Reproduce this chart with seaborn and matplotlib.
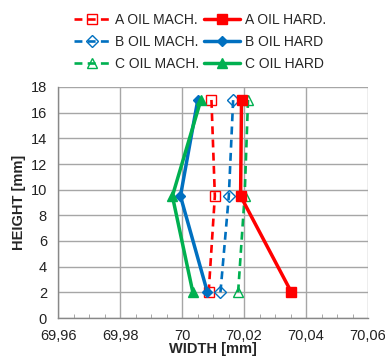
import matplotlib
matplotlib.use("Agg")
import matplotlib.pyplot as plt
import seaborn as sns
import pandas as pd
from matplotlib.ticker import MultipleLocator, FuncFormatter

sns.set_style("white")
plt.rcParams['font.family'] = ['Liberation Sans', 'DejaVu Sans']

height = [2, 9.5, 17]
a_mach = [70.0086, 70.0106, 70.0095]
a_hard = [70.0353, 70.0189, 70.0192]
b_mach = [70.0124, 70.0151, 70.0165]
b_hard = [70.0082, 69.9995, 70.0051]
c_mach = [70.0181, 70.0202, 70.0213]
c_hard = [70.0035, 69.9969, 70.0061]

series = [
    ("A OIL MACH.", a_mach, "#FF0000", "--", "s", "none"),
    ("B OIL MACH.", b_mach, "#0070C0", "--", "D", "none"),
    ("C OIL MACH.", c_mach, "#00B050", "--", "^", "none"),
    ("A OIL HARD.", a_hard, "#FF0000", "-", "s", None),
    ("B OIL HARD", b_hard, "#0070C0", "-", "D", None),
    ("C OIL HARD", c_hard, "#00B050", "-", "^", None),
]

fig = plt.figure(figsize=(3.85, 3.64), dpi=100)
ax = fig.add_axes([58/385, 46/364, 310/385, 231/364])

handles = []
for name, vals, col, ls, mk, fc in series:
    df = pd.DataFrame({"WIDTH": vals, "HEIGHT": height})
    solid = ls == "-"
    ms = {"s": 7, "D": 5.5, "^": 7}[mk] if solid else {"s": 7, "D": 6, "^": 7}[mk]
    n_before = len(ax.get_lines())
    sns.lineplot(data=df, x="WIDTH", y="HEIGHT", sort=False, ax=ax, color=col,
                 linewidth=2.5 if solid else 1.9, legend=False,
                 marker=mk, markersize=ms,
                 markerfacecolor=(fc if fc else col), markeredgecolor=col,
                 markeredgewidth=1.0, zorder=3)
    ln = ax.get_lines()[n_before]
    if not solid:
        ln.set_linestyle((0, (3, 2)))
    ln.set_label(name)
    handles.append(ln)

ax.set_xlim(69.96, 70.06)
ax.set_ylim(0, 18)
ax.xaxis.set_major_locator(MultipleLocator(0.02))
ax.xaxis.set_minor_locator(MultipleLocator(0.005))
ax.yaxis.set_major_locator(MultipleLocator(2))

def fmt(v, pos):
    s = ("%.2f" % v).rstrip("0").rstrip(".")
    return s.replace(".", ",")
ax.xaxis.set_major_formatter(FuncFormatter(fmt))

ax.grid(True, which="major", color="#A6A6A6", linewidth=1.0)
ax.set_axisbelow(True)
for s in ["top", "right"]:
    ax.spines[s].set_visible(False)
for s in ["left", "bottom"]:
    ax.spines[s].set_color("#888888")
    ax.spines[s].set_linewidth(1.0)

ax.tick_params(axis="x", which="major", length=0, labelsize=10.5, pad=8, colors="#222222")
ax.tick_params(axis="x", which="minor", direction="in", length=3, color="#999999", bottom=True)
ax.tick_params(axis="y", which="major", length=0, labelsize=10.5, pad=8, colors="#222222")

ax.set_xlabel("WIDTH [mm]", fontsize=10.5, fontweight="bold", labelpad=-1)
ax.set_ylabel("HEIGHT [mm]", fontsize=10.5, fontweight="bold", labelpad=3)

leg = fig.legend(handles=handles, labels=[h.get_label() for h in handles],
                 ncol=2, loc="upper center", bbox_to_anchor=(0.52, 1.0),
                 frameon=False, fontsize=10, handlelength=2.6,
                 columnspacing=0.3, handletextpad=0.4, labelspacing=0.6)

fig.savefig("out.png", dpi=100)
